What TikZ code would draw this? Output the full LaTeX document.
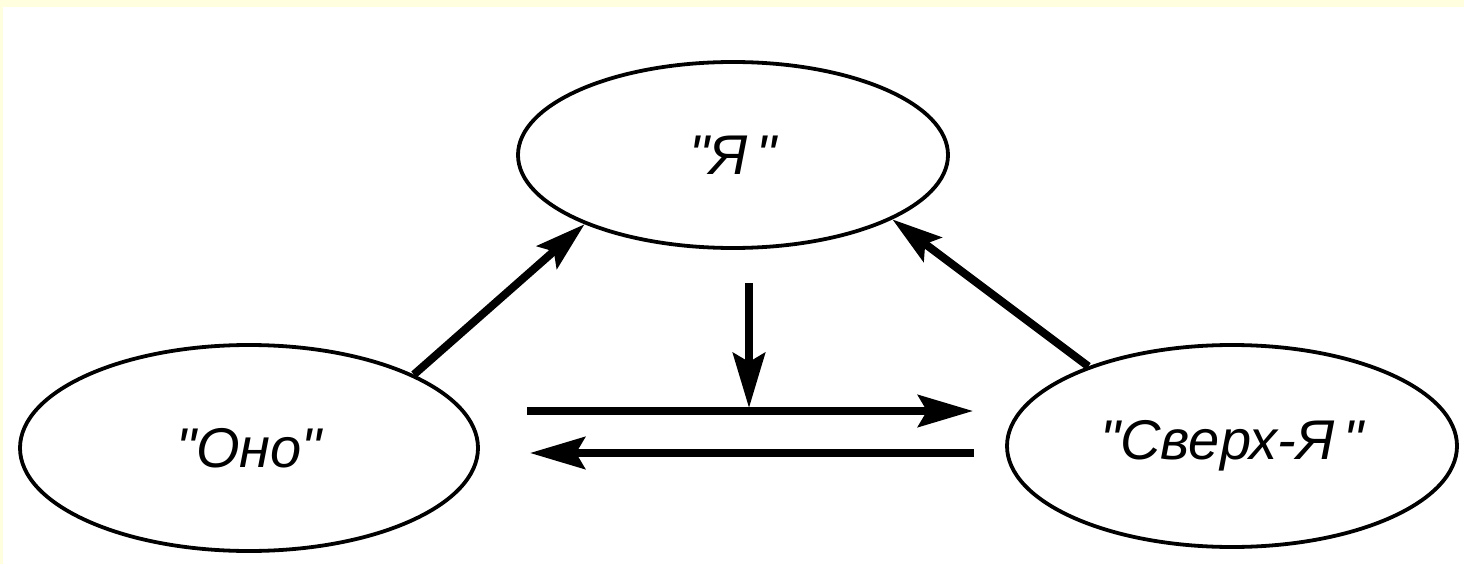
\documentclass[tikz,border=0pt]{standalone}
\usepackage{fontspec}
\setmainfont{Liberation Sans}
\usetikzlibrary{shapes.geometric,arrows.meta}
\definecolor{frameyellow}{HTML}{FFFFE0}
\newcommand{\qq}{\textquotedbl}
\tikzset{
  oval/.style={ellipse, draw=black, line width=3.8pt, inner sep=0pt, font=\fontsize{56}{60}\selectfont\itshape},
  thickarrow/.style={line width=7.5pt, -{Stealth[length=55pt,width=32pt,inset=9pt]}},
  diagarrow/.style={line width=8pt, -{Stealth[length=50pt,width=30pt,inset=9pt]}},
}
\begin{document}
\begin{tikzpicture}[x=1pt,y=-1pt]
\useasboundingbox (0,0) rectangle (1464,564);
\fill[frameyellow] (0,0) rectangle (1464,564);
\fill[white] (3,7) rectangle (1464,564);

\node[oval, minimum width=430pt, minimum height=186pt] (ya) at (733,155) {\qq Я\,\qq};
\node[oval, minimum width=458pt, minimum height=206pt] (ono) at (249,448) {\qq Оно\qq};
\node[oval, minimum width=450pt, minimum height=202pt] (sverh) at (1232,446) {\qq Сверх-Я\,\qq};

\coordinate (r1) at (527,411);
\coordinate (r2) at (973,411);
\coordinate (l1) at (974,453);
\coordinate (l2) at (530,453);
\coordinate (v1) at (749,283);
\coordinate (v2) at (749,408);

\draw[diagarrow] (ono.24) -- (ya.205.5);
\draw[diagarrow] (sverh.151) -- (ya.338);
\draw[thickarrow] (r1) -- (r2);
\draw[thickarrow] (l1) -- (l2);
\draw[thickarrow, line width=8pt] (v1) -- (v2);
\end{tikzpicture}
\end{document}
